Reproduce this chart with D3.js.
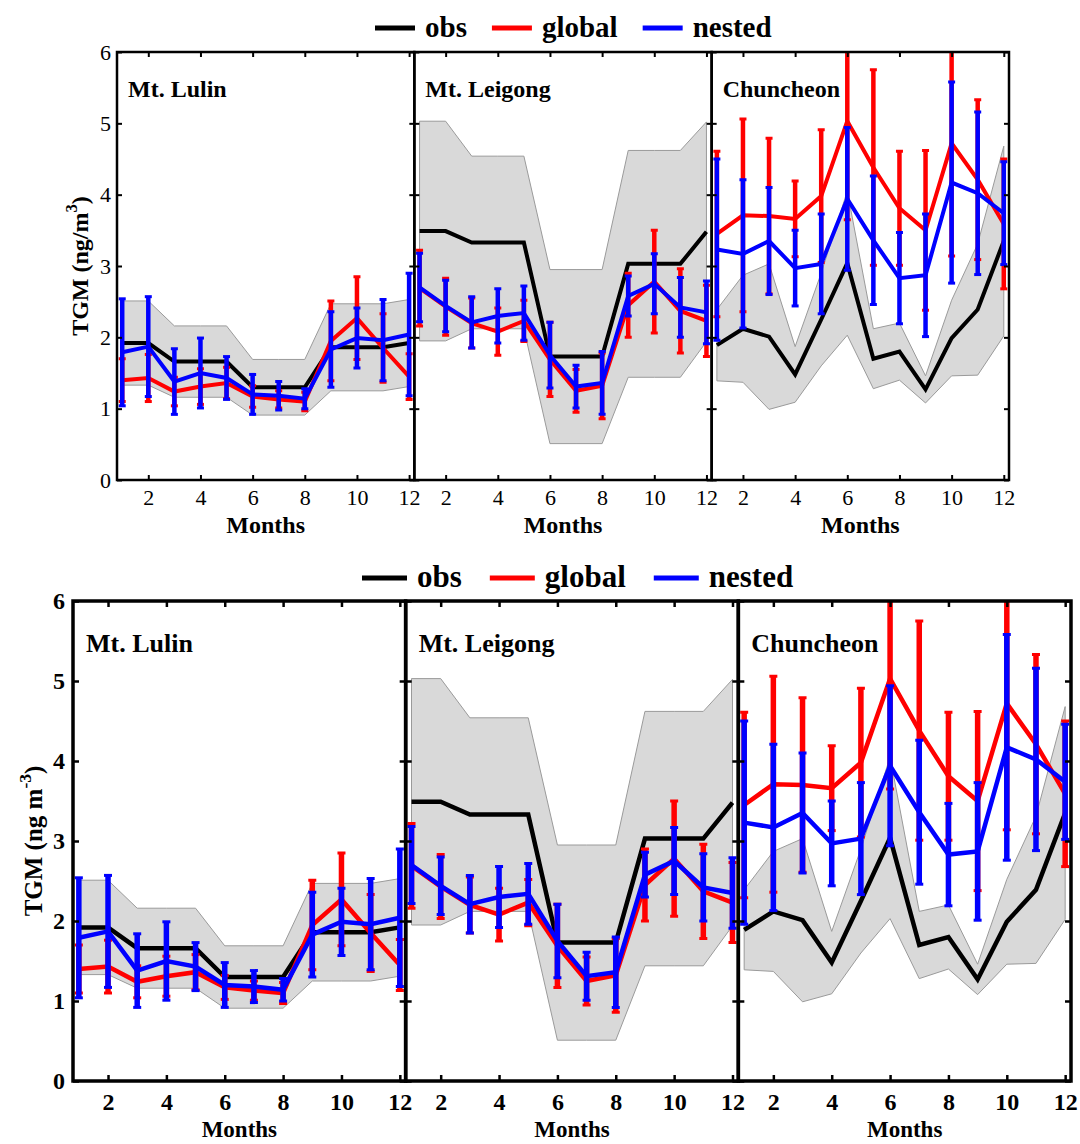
<html>
<head>
  <title>TGM monthly</title>
  <script src="https://cdn.jsdelivr.net/npm/d3@7"></script>
  <style>
    body { margin: 0; background: #fff; }
    svg text { font-family: 'Liberation Serif', 'Times New Roman', serif; }
  </style>
</head>
<body>
<div id="chart"></div>
<script>
  // data (ng/m3), months 1..12
  const months = [1, 2, 3, 4, 5, 6, 7, 8, 9, 10, 11, 12]
  const xTicks = [2, 4, 6, 8, 10, 12]
  const yTicks = [0, 1, 2, 3, 4, 5, 6]
  const sites = ["Mt. Lulin", "Mt. Leigong", "Chuncheon"]
  const legendLabels = ["obs", "global", "nested"]
  const legendColors = ["#000000", "#ff0000", "#0000ff"]

  const obsLulin = [1.92, 1.92, 1.66, 1.66, 1.66, 1.30, 1.30, 1.30, 1.86, 1.86, 1.86, 1.92]
  const obsSdLulin = [0.59, 0.59, 0.50, 0.50, 0.50, 0.39, 0.39, 0.39, 0.61, 0.61, 0.61, 0.61]
  const globalLulin = [1.40, 1.43, 1.24, 1.31, 1.36, 1.17, 1.13, 1.10, 1.95, 2.27, 1.85, 1.45]
  const globalSdLulin = [0.30, 0.33, 0.20, 0.25, 0.22, 0.15, 0.12, 0.13, 0.56, 0.58, 0.48, 0.32]
  const nestedLulin = [1.79, 1.87, 1.38, 1.50, 1.43, 1.20, 1.18, 1.14, 1.83, 1.99, 1.96, 2.04]
  const nestedSdLulin = [0.75, 0.70, 0.46, 0.49, 0.30, 0.28, 0.20, 0.14, 0.53, 0.42, 0.57, 0.86]

  const obsLeigong = [3.49, 3.49, 3.33, 3.33, 3.33, 1.73, 1.73, 1.73, 3.03, 3.03, 3.03, 3.48]
  const obsSdLeigong = [1.54, 1.54, 1.21, 1.21, 1.21, 1.22, 1.22, 1.22, 1.59, 1.59, 1.59, 1.54]
  const globalLeigong = [2.69, 2.43, 2.20, 2.08, 2.23, 1.69, 1.25, 1.32, 2.45, 2.78, 2.37, 2.23]
  const globalSdLeigong = [0.53, 0.40, 0.35, 0.33, 0.29, 0.52, 0.30, 0.46, 0.45, 0.72, 0.59, 0.50]
  const nestedLeigong = [2.70, 2.44, 2.21, 2.30, 2.34, 1.75, 1.31, 1.36, 2.58, 2.75, 2.42, 2.35]
  const nestedSdLeigong = [0.48, 0.36, 0.36, 0.38, 0.38, 0.46, 0.30, 0.44, 0.28, 0.42, 0.42, 0.44]

  const obsChuncheon = [1.89, 2.12, 2.01, 1.48, 2.25, 3.04, 1.70, 1.80, 1.27, 1.99, 2.39, 3.35]
  const obsSdChuncheon = [0.50, 0.75, 1.02, 0.39, 0.65, 1.01, 0.42, 0.40, 0.19, 0.53, 0.92, 1.33]
  const globalChuncheon = [3.45, 3.71, 3.70, 3.66, 3.98, 5.03, 4.38, 3.81, 3.50, 4.72, 4.21, 3.59]
  const globalSdChuncheon = [1.16, 1.35, 1.09, 0.53, 0.93, 1.38, 1.37, 0.80, 1.12, 1.58, 1.12, 0.91]
  const nestedChuncheon = [3.23, 3.17, 3.35, 2.97, 3.03, 3.94, 3.36, 2.83, 2.87, 4.17, 4.02, 3.74]
  const nestedSdChuncheon = [1.27, 1.04, 0.75, 0.53, 0.70, 1.00, 0.90, 0.64, 0.86, 1.41, 1.14, 0.72]

  const panels = [
    { name: sites[0], obs: obsLulin, obsSd: obsSdLulin, glb: globalLulin, glbSd: globalSdLulin, nst: nestedLulin, nstSd: nestedSdLulin },
    { name: sites[1], obs: obsLeigong, obsSd: obsSdLeigong, glb: globalLeigong, glbSd: globalSdLeigong, nst: nestedLeigong, nstSd: nestedSdLeigong },
    { name: sites[2], obs: obsChuncheon, obsSd: obsSdChuncheon, glb: globalChuncheon, glbSd: globalSdChuncheon, nst: nestedChuncheon, nstSd: nestedSdChuncheon }
  ]

  const svg = d3.select("#chart").append("svg")
    .attr("width", 1080)
    .attr("height", 1144)

  function drawFigure(cfg) {
    const fig = svg.append("g")
    const pw = (cfg.right - cfg.left) / 3
    const y = d3.scaleLinear().domain([0, 6]).range([cfg.bottom, cfg.top])

    panels.forEach((p, i) => {
      const x = d3.scaleLinear().domain([0.8, 12.2]).range([cfg.left + i * pw, cfg.left + (i + 1) * pw])
      const clipId = `clip-${cfg.id}-${i}`
      fig.append("clipPath").attr("id", clipId).append("rect")
        .attr("x", x(0.8)).attr("y", cfg.top)
        .attr("width", pw).attr("height", cfg.bottom - cfg.top)
      const pg = fig.append("g").attr("clip-path", `url(#${clipId})`)

      //obs range band
      const band = d3.area()
        .x((d, k) => x(months[k]))
        .y0((d, k) => y(p.obs[k] - p.obsSd[k]))
        .y1((d, k) => y(p.obs[k] + p.obsSd[k]))
      pg.append("path").datum(months)
        .attr("d", band)
        .attr("fill", "#d9d9d9")
        .attr("stroke", "#9a9a9a")
        .attr("stroke-width", 1)

      const line = d3.line().x((d, k) => x(months[k])).y(d => y(d))
      pg.append("path").datum(p.obs)
        .attr("d", line)
        .attr("fill", "none")
        .attr("stroke", "#000")
        .attr("stroke-width", cfg.lw)

      //model series with error bars
      const series = [[p.glb, p.glbSd, legendColors[1]], [p.nst, p.nstSd, legendColors[2]]]
      series.forEach(([vals, sd, col]) => {
        const eg = pg.append("g")
        eg.selectAll("line.bar").data(vals).join("line")
          .attr("class", "bar")
          .attr("x1", (d, k) => x(months[k])).attr("x2", (d, k) => x(months[k]))
          .attr("y1", (d, k) => y(d - sd[k])).attr("y2", (d, k) => y(d + sd[k]))
          .attr("stroke", col).attr("stroke-width", cfg.ew)
        ;[-1, 1].forEach(s => {
          eg.selectAll(`line.cap${s}`).data(vals).join("line")
            .attr("class", `cap${s}`)
            .attr("x1", (d, k) => x(months[k]) - cfg.cap).attr("x2", (d, k) => x(months[k]) + cfg.cap)
            .attr("y1", (d, k) => y(d + s * sd[k])).attr("y2", (d, k) => y(d + s * sd[k]))
            .attr("stroke", col).attr("stroke-width", 3)
        })
        pg.append("path").datum(vals)
          .attr("d", line)
          .attr("fill", "none")
          .attr("stroke", col)
          .attr("stroke-width", cfg.lw)
      })

      //ticks (inward)
      const ax = fig.append("g").attr("class", "ax")
      ax.append("g").attr("transform", `translate(0,${cfg.bottom})`)
        .call(d3.axisBottom(x).tickValues(xTicks).tickSizeInner(-cfg.tick).tickSizeOuter(0).tickPadding(cfg.xPad))
      ax.append("g").attr("transform", `translate(0,${cfg.top})`)
        .call(d3.axisTop(x).tickValues(xTicks).tickSizeInner(-cfg.tick).tickSizeOuter(0).tickFormat(""))
      ax.append("g").attr("transform", `translate(${x(0.8)},0)`)
        .call(d3.axisLeft(y).tickValues(yTicks).tickSizeInner(-cfg.tick).tickSizeOuter(0).tickPadding(cfg.yPad)
          .tickFormat(i == 0 ? d3.format("d") : ""))
      ax.append("g").attr("transform", `translate(${x(12.2)},0)`)
        .call(d3.axisRight(y).tickValues(yTicks).tickSizeInner(-cfg.tick).tickSizeOuter(0).tickFormat(""))

      //frame
      fig.append("rect")
        .attr("x", x(0.8)).attr("y", cfg.top)
        .attr("width", pw).attr("height", cfg.bottom - cfg.top)
        .attr("fill", "none").attr("stroke", "#000").attr("stroke-width", cfg.frame)

      //site name
      fig.append("text")
        .attr("x", x(0.8) + cfg.titleDx).attr("y", cfg.titleY)
        .attr("font-size", cfg.titleSize).attr("font-weight", "bold")
        .text(p.name)

      fig.append("text")
        .attr("x", (x(0.8) + x(12.2)) / 2).attr("y", cfg.monthsY)
        .attr("text-anchor", "middle")
        .attr("font-size", cfg.monthsSize).attr("font-weight", "bold")
        .text("Months")
    })

    fig.selectAll(".ax path.domain").remove()
    fig.selectAll(".ax line").attr("stroke", "#000").attr("stroke-width", cfg.tickW)
    fig.selectAll(".ax text")
      .attr("fill", "#000")
      .attr("font-size", cfg.tickSize)
      .attr("font-weight", cfg.tickWeight)
      .attr("font-family", "'Liberation Serif', 'Times New Roman', serif")

    //y label
    const yl = fig.append("text")
      .attr("transform", `translate(${cfg.ylabX},${(cfg.top + cfg.bottom) / 2}) rotate(-90)`)
      .attr("text-anchor", "middle")
      .attr("font-size", cfg.labelSize).attr("font-weight", "bold")
    yl.append("tspan").text(cfg.ylab[0])
    yl.append("tspan").attr("dy", -cfg.labelSize * 0.45).attr("font-size", cfg.labelSize * 0.7).text(cfg.ylab[1])
    yl.append("tspan").attr("dy", cfg.labelSize * 0.45).text(")")

    //legend
    const lg = fig.append("g")
    let lx = cfg.legendX
    legendLabels.forEach((name, k) => {
      lg.append("line")
        .attr("x1", lx).attr("x2", lx + cfg.legLine)
        .attr("y1", cfg.legendY).attr("y2", cfg.legendY)
        .attr("stroke", legendColors[k]).attr("stroke-width", 5)
      const t = lg.append("text")
        .attr("x", lx + cfg.legLine + 10).attr("y", cfg.legendY + 9)
        .attr("font-size", cfg.legSize).attr("font-weight", "bold")
        .text(name)
      lx += cfg.legLine + 10 + t.node().getComputedTextLength() + cfg.legGap
    })
  }

  drawFigure({
    id: "a", left: 117, right: 1009, top: 52, bottom: 480,
    lw: 4, ew: 4.5, cap: 3.5, frame: 2.5, tick: 5, tickW: 2,
    tickSize: 22, tickWeight: "normal", xPad: 9, yPad: 6,
    titleDx: 11, titleY: 97, titleSize: 24,
    labelSize: 24, monthsSize: 24, monthsY: 533, ylabX: 88, ylab: ["TGM (ng/m", "3"],
    legendX: 375, legendY: 28, legLine: 40, legSize: 29, legGap: 25
  })

  drawFigure({
    id: "b", left: 73, right: 1071, top: 601, bottom: 1081,
    lw: 4.5, ew: 5.5, cap: 4, frame: 3.5, tick: 6, tickW: 2.5,
    tickSize: 24, tickWeight: "bold", xPad: 12, yPad: 8,
    titleDx: 13, titleY: 652, titleSize: 26,
    labelSize: 25, monthsSize: 23, monthsY: 1137, ylabX: 42, ylab: ["TGM (ng m", "-3"],
    legendX: 362, legendY: 578, legLine: 45, legSize: 31, legGap: 28
  })
</script>
</body>
</html>
